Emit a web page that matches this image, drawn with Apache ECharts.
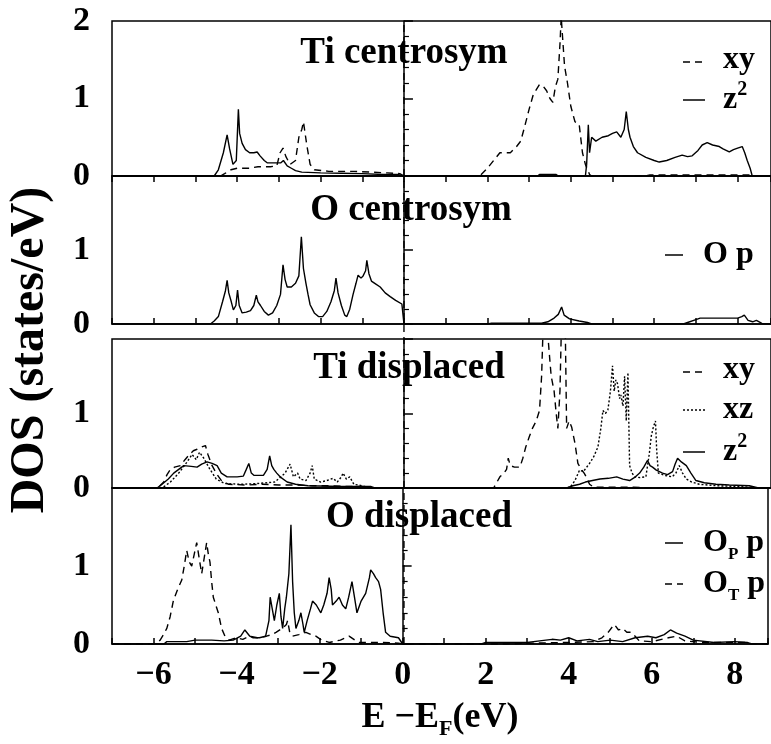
<!DOCTYPE html>
<html>
<head>
<meta charset="utf-8">
<script src="https://cdn.jsdelivr.net/npm/echarts/dist/echarts.min.js"></script>
<style>
  html, body { margin: 0; padding: 0; background: #fff; }
  #chart { width: 771px; height: 744px; }
</style>
</head>
<body>
<div id="chart"></div>
<script>
// energy axis range and Fermi level (eV)
const energyMin = -7;
const energyMax = 8.8;
const fermiLevel = 0;

const panelTitles = ['Ti centrosym', 'O centrosym', 'Ti displaced', 'O displaced'];
const xTickLabels = [-6, -4, -2, 0, 2, 4, 6, 8];
const yTickLabels = [0, 1, 2];

// [E - EF, DOS]
const tiCentroXy = [[-7,0],[-4.4,0],[-4.3,0.03],[-4.15,0.08],[-4.0,0.1],[-3.7,0.1],[-3.5,0.12],[-3.2,0.12],[-3.05,0.13],[-2.97,0.3],[-2.9,0.36],[-2.83,0.25],[-2.73,0.15],[-2.6,0.2],[-2.52,0.5],[-2.45,0.6],[-2.41,0.7],[-2.37,0.55],[-2.33,0.4],[-2.25,0.15],[-2.15,0.08],[-1.8,0.06],[-1.2,0.06],[-0.8,0.05],[-0.4,0.04],[-0.1,0.03],[0,0],[1.82,0],[2.0,0.1],[2.15,0.2],[2.3,0.3],[2.55,0.3],[2.7,0.38],[2.8,0.45],[2.9,0.65],[3.0,0.86],[3.1,1.05],[3.25,1.18],[3.35,1.15],[3.42,1.1],[3.5,1.0],[3.57,0.95],[3.63,1.15],[3.69,1.25],[3.74,1.7],[3.77,2.05],[3.8,2.05],[3.85,1.42],[3.92,1.2],[4.0,0.9],[4.05,0.8],[4.1,0.7],[4.2,0.67],[4.28,0.3],[4.35,0.15],[4.45,0.02],[4.5,0],[5.8,0],[5.9,0.015],[8.3,0.015],[8.35,0],[8.8,0]];
const tiCentroZ2 = [[-7,0],[-4.55,0],[-4.45,0.08],[-4.33,0.3],[-4.24,0.53],[-4.18,0.35],[-4.1,0.15],[-4.02,0.2],[-3.97,0.86],[-3.94,0.55],[-3.88,0.42],[-3.8,0.34],[-3.7,0.3],[-3.6,0.3],[-3.52,0.31],[-3.45,0.26],[-3.35,0.2],[-3.28,0.17],[-3.1,0.17],[-2.95,0.17],[-2.89,0.2],[-2.8,0.13],[-2.7,0.1],[-2.6,0.07],[-2.45,0.05],[-2.0,0.04],[-1.5,0.035],[-1.0,0.03],[-0.5,0.02],[-0.15,0.02],[0,0],[3.2,0],[3.25,0.02],[3.65,0.02],[3.7,0],[4.35,0],[4.38,0.15],[4.42,0.66],[4.45,0.3],[4.5,0.5],[4.6,0.45],[4.75,0.5],[4.9,0.52],[5.0,0.55],[5.1,0.57],[5.2,0.5],[5.28,0.6],[5.33,0.83],[5.38,0.6],[5.42,0.5],[5.5,0.38],[5.6,0.3],[5.8,0.24],[6.0,0.2],[6.12,0.18],[6.3,0.2],[6.5,0.24],[6.67,0.27],[6.8,0.25],[6.91,0.26],[7.05,0.33],[7.15,0.4],[7.27,0.43],[7.4,0.4],[7.56,0.38],[7.65,0.35],[7.8,0.31],[7.9,0.34],[8.0,0.36],[8.11,0.38],[8.17,0.3],[8.23,0.2],[8.3,0.1],[8.35,0],[8.8,0]];
const oCentroP = [[-7,0],[-4.64,0],[-4.55,0.04],[-4.45,0.1],[-4.35,0.3],[-4.28,0.45],[-4.24,0.59],[-4.2,0.42],[-4.14,0.3],[-4.09,0.19],[-4.03,0.25],[-3.99,0.46],[-3.95,0.25],[-3.88,0.15],[-3.78,0.16],[-3.68,0.18],[-3.6,0.25],[-3.54,0.39],[-3.5,0.3],[-3.44,0.25],[-3.35,0.17],[-3.25,0.12],[-3.15,0.15],[-3.05,0.25],[-2.96,0.4],[-2.9,0.8],[-2.85,0.6],[-2.8,0.5],[-2.7,0.5],[-2.6,0.55],[-2.52,0.65],[-2.46,1.18],[-2.41,0.75],[-2.35,0.55],[-2.3,0.4],[-2.25,0.26],[-2.15,0.15],[-2.05,0.1],[-1.95,0.1],[-1.85,0.17],[-1.75,0.3],[-1.67,0.45],[-1.63,0.62],[-1.58,0.42],[-1.5,0.25],[-1.42,0.12],[-1.37,0.1],[-1.3,0.2],[-1.22,0.4],[-1.15,0.55],[-1.1,0.66],[-1.03,0.62],[-0.98,0.65],[-0.92,0.72],[-0.89,0.86],[-0.84,0.68],[-0.78,0.58],[-0.7,0.55],[-0.57,0.5],[-0.45,0.42],[-0.33,0.37],[-0.2,0.32],[-0.05,0.27],[0,0],[2.0,0],[2.1,0.01],[3.3,0.01],[3.45,0.03],[3.6,0.08],[3.7,0.13],[3.78,0.23],[3.84,0.12],[3.97,0.07],[4.2,0.04],[4.4,0.02],[4.5,0],[6.7,0],[6.8,0.02],[7.0,0.06],[7.1,0.08],[8.0,0.08],[8.1,0.1],[8.16,0.12],[8.25,0.05],[8.36,0.03],[8.45,0.05],[8.55,0.02],[8.6,0],[8.8,0]];
const tiDispXy = [[-7,0],[-5.95,0],[-5.85,0.03],[-5.76,0.08],[-5.68,0.18],[-5.6,0.25],[-5.5,0.28],[-5.36,0.3],[-5.25,0.38],[-5.16,0.44],[-5.05,0.5],[-4.96,0.52],[-4.85,0.55],[-4.76,0.57],[-4.7,0.45],[-4.6,0.3],[-4.48,0.18],[-4.35,0.08],[-4.2,0.05],[-3.8,0.04],[-3.4,0.05],[-3.0,0.04],[-2.6,0.04],[-2.2,0.03],[-1.8,0.03],[-1.4,0.02],[-1.0,0.02],[-0.8,0],[2.15,0],[2.22,0.07],[2.3,0.15],[2.4,0.2],[2.46,0.25],[2.5,0.4],[2.55,0.3],[2.65,0.28],[2.78,0.28],[2.85,0.4],[2.92,0.55],[3.0,0.68],[3.08,0.8],[3.17,0.9],[3.25,1.04],[3.3,1.5],[3.33,2.05],[3.45,2.05],[3.5,1.7],[3.53,1.5],[3.6,1.3],[3.65,1.0],[3.69,0.8],[3.74,1.3],[3.77,2.05],[3.87,2.05],[3.9,0.8],[3.96,0.9],[4.02,0.82],[4.1,0.6],[4.17,0.33],[4.25,0.25],[4.32,0.2],[4.37,0.15],[4.45,0.05],[4.55,0.01],[5.5,0.01],[6.0,0],[8.8,0]];
const tiDispXz = [[-7,0],[-5.8,0],[-5.6,0.08],[-5.4,0.2],[-5.2,0.35],[-5.08,0.45],[-4.98,0.38],[-4.9,0.48],[-4.8,0.4],[-4.65,0.25],[-4.5,0.12],[-4.3,0.06],[-3.9,0.05],[-3.5,0.06],[-3.1,0.08],[-2.95,0.15],[-2.85,0.2],[-2.73,0.32],[-2.65,0.15],[-2.55,0.2],[-2.49,0.12],[-2.35,0.1],[-2.25,0.2],[-2.2,0.3],[-2.15,0.12],[-2.0,0.08],[-1.85,0.1],[-1.7,0.13],[-1.6,0.08],[-1.5,0.15],[-1.46,0.2],[-1.38,0.12],[-1.3,0.15],[-1.2,0.05],[-1.0,0.03],[-0.8,0],[3.9,0],[4.0,0.02],[4.1,0.1],[4.21,0.24],[4.3,0.22],[4.45,0.33],[4.55,0.42],[4.65,0.55],[4.72,0.8],[4.77,1.04],[4.83,1.0],[4.89,1.05],[4.95,1.3],[5.0,1.64],[5.04,1.3],[5.08,1.45],[5.12,1.4],[5.17,1.2],[5.2,1.25],[5.25,1.1],[5.29,1.5],[5.33,0.9],[5.37,1.55],[5.41,0.3],[5.47,0.2],[5.53,0.15],[5.65,0.14],[5.8,0.15],[5.88,0.45],[5.93,0.7],[5.98,0.82],[6.03,0.9],[6.06,0.5],[6.1,0.2],[6.25,0.17],[6.43,0.15],[6.52,0.2],[6.6,0.3],[6.68,0.2],[6.77,0.12],[6.9,0.08],[7.08,0.05],[7.5,0.03],[8.0,0.02],[8.3,0.01],[8.4,0],[8.8,0]];
const tiDispZ2 = [[-7,0],[-5.92,0],[-5.8,0.05],[-5.65,0.12],[-5.52,0.2],[-5.4,0.25],[-5.28,0.3],[-5.1,0.29],[-4.96,0.28],[-4.85,0.32],[-4.72,0.35],[-4.6,0.33],[-4.48,0.3],[-4.38,0.2],[-4.24,0.15],[-4.0,0.15],[-3.85,0.16],[-3.78,0.25],[-3.72,0.33],[-3.66,0.2],[-3.6,0.17],[-3.37,0.17],[-3.28,0.25],[-3.22,0.43],[-3.17,0.3],[-3.12,0.25],[-3.05,0.2],[-2.97,0.15],[-2.8,0.08],[-2.6,0.05],[-2.3,0.03],[-1.5,0.02],[-0.8,0.02],[-0.7,0],[3.9,0],[4.05,0.03],[4.21,0.05],[4.35,0.08],[4.52,0.1],[4.7,0.12],[4.9,0.13],[5.1,0.15],[5.25,0.12],[5.41,0.1],[5.55,0.15],[5.65,0.2],[5.75,0.28],[5.84,0.37],[5.9,0.3],[5.96,0.28],[6.05,0.24],[6.2,0.2],[6.32,0.18],[6.44,0.22],[6.5,0.32],[6.56,0.4],[6.65,0.35],[6.77,0.3],[6.88,0.2],[7.0,0.1],[7.2,0.07],[7.48,0.05],[7.8,0.04],[8.28,0.03],[8.5,0],[8.8,0]];
const oDispOpP = [[-7,0],[-5.75,0],[-5.68,0.03],[-5.2,0.03],[-5.0,0.05],[-4.6,0.05],[-4.3,0.04],[-4.08,0.05],[-3.9,0.1],[-3.8,0.18],[-3.76,0.2],[-3.68,0.1],[-3.6,0.08],[-3.45,0.08],[-3.3,0.1],[-3.22,0.3],[-3.19,0.6],[-3.14,0.45],[-3.09,0.3],[-3.03,0.5],[-2.97,0.65],[-2.93,0.35],[-2.89,0.2],[-2.84,0.45],[-2.8,0.6],[-2.74,0.9],[-2.69,1.53],[-2.65,0.8],[-2.61,0.4],[-2.57,0.2],[-2.5,0.3],[-2.45,0.4],[-2.4,0.25],[-2.37,0.15],[-2.3,0.3],[-2.22,0.45],[-2.17,0.55],[-2.08,0.5],[-1.97,0.4],[-1.9,0.5],[-1.82,0.65],[-1.77,0.85],[-1.72,0.7],[-1.69,0.5],[-1.6,0.55],[-1.53,0.6],[-1.45,0.5],[-1.37,0.45],[-1.3,0.6],[-1.22,0.8],[-1.16,0.6],[-1.1,0.4],[-1.0,0.55],[-0.89,0.65],[-0.8,0.85],[-0.77,0.95],[-0.7,0.9],[-0.65,0.85],[-0.58,0.8],[-0.53,0.7],[-0.47,0.4],[-0.41,0.15],[-0.3,0.1],[-0.1,0.08],[0,0],[1.9,0],[2.0,0.02],[3.0,0.02],[3.3,0.04],[3.6,0.06],[3.8,0.05],[4.0,0.08],[4.2,0.04],[4.5,0.06],[4.7,0.03],[5.0,0.05],[5.3,0.03],[5.6,0.08],[5.9,0.1],[6.1,0.08],[6.3,0.12],[6.45,0.18],[6.6,0.14],[6.8,0.1],[7.0,0.05],[7.5,0.02],[8.0,0.03],[8.3,0.02],[8.4,0],[8.8,0]];
const oDispOtP = [[-7,0],[-6.0,0],[-5.92,0.02],[-5.84,0.05],[-5.76,0.12],[-5.68,0.2],[-5.6,0.35],[-5.52,0.56],[-5.42,0.7],[-5.32,0.82],[-5.26,1.0],[-5.2,1.2],[-5.14,1.05],[-5.08,1.0],[-5.02,1.15],[-4.96,1.3],[-4.9,1.1],[-4.84,0.9],[-4.78,1.1],[-4.72,1.3],[-4.68,1.15],[-4.64,1.05],[-4.6,0.8],[-4.56,0.6],[-4.5,0.5],[-4.44,0.4],[-4.36,0.2],[-4.28,0.1],[-4.18,0.05],[-4.0,0.08],[-3.85,0.06],[-3.68,0.1],[-3.5,0.08],[-3.28,0.1],[-3.15,0.12],[-3.05,0.15],[-2.9,0.2],[-2.8,0.25],[-2.77,0.3],[-2.72,0.15],[-2.65,0.1],[-2.5,0.12],[-2.33,0.15],[-2.2,0.12],[-2.09,0.1],[-1.95,0.05],[-1.77,0.02],[-1.5,0.05],[-1.29,0.1],[-1.15,0.05],[-1.05,0.02],[-0.5,0.02],[-0.1,0.01],[0,0],[2.5,0],[3.0,0.01],[4.0,0.02],[4.6,0.03],[4.8,0.08],[4.95,0.15],[5.05,0.22],[5.1,0.25],[5.2,0.18],[5.3,0.2],[5.4,0.15],[5.5,0.15],[5.6,0.1],[5.7,0.04],[6.0,0.03],[6.4,0.08],[6.6,0.1],[6.8,0.04],[7.2,0.02],[8.3,0.02],[8.4,0],[8.8,0]];

const serif = 'Liberation Serif';
const DASH = [7, 5];
const DOT = [2, 2];

// panel boxes (px)
const panels = [
  { top: 21, height: 155, tick: 'top' },
  { top: 176, height: 148, tick: 'bottom' },
  { top: 339, height: 149, tick: 'none' },
  { top: 488, height: 156, tick: 'bottom', labels: true }
];

const chart = echarts.init(document.getElementById('chart'));

const grids = panels.map(p => ({
  left: 112, right: -3, top: p.top, height: p.height,
  show: true, borderColor: '#000', borderWidth: 1.5
}));
// full-height grid for the Fermi level line
grids.push({ left: 112, right: -3, top: 21, height: 623 });

const xAxes = panels.map((p, i) => ({
  gridIndex: i, type: 'value', min: energyMin, max: energyMax, interval: 1,
  position: p.tick === 'top' ? 'top' : 'bottom',
  axisLine: { show: true, lineStyle: { color: '#000', width: 1.5 } },
  axisTick: { show: p.tick !== 'none', inside: true, length: 6, lineStyle: { color: '#000', width: 1.5 } },
  splitLine: { show: false },
  axisLabel: {
    show: !!p.labels, margin: 14, color: '#000', fontFamily: serif, fontWeight: 'bold', fontSize: 34,
    formatter: v => xTickLabels.indexOf(v) >= 0 ? (v < 0 ? '\u2212' + Math.abs(v) : String(v)) : ''
  }
}));
xAxes.push({ gridIndex: 4, type: 'value', min: energyMin, max: energyMax, show: false });

const yAxes = panels.map((p, i) => ({
  gridIndex: i, type: 'value', min: 0, max: 2, interval: 1,
  axisLine: { show: true, lineStyle: { color: '#000', width: 1.5 } },
  axisTick: { show: true, inside: true, length: 9, lineStyle: { color: '#000', width: 1.5 } },
  minorTick: { show: true, splitNumber: 5, length: 5, lineStyle: { color: '#000', width: 1.2 } },
  splitLine: { show: false },
  axisLabel: {
    margin: 22, color: '#000', fontFamily: serif, fontWeight: 'bold', fontSize: 34,
    formatter: v => (yTickLabels.indexOf(v) >= 0 && (i === 0 || v < 2)) ? String(v) : ''
  }
}));
yAxes.push({ gridIndex: 4, type: 'value', min: 0, max: 1, show: false });

function curve(data, idx, dash) {
  return {
    type: 'line', data: data, xAxisIndex: idx, yAxisIndex: idx,
    showSymbol: false, symbol: 'none', clip: true,
    lineStyle: { color: '#000', width: 1.4, type: dash || 'solid' }
  };
}

const series = [
  curve(tiCentroXy, 0, DASH),
  curve(tiCentroZ2, 0),
  curve(oCentroP, 1),
  curve(tiDispXy, 2, DASH),
  curve(tiDispXz, 2, DOT),
  curve(tiDispZ2, 2),
  curve(oDispOpP, 3),
  curve(oDispOtP, 3, DASH),
  curve([[fermiLevel, 0], [fermiLevel, 1]], 4, DASH)
];

const titleStyle = { fill: '#000', fontFamily: serif, fontWeight: 'bold', fontSize: 37, align: 'center', verticalAlign: 'middle' };
const legendFont = { fill: '#000', fontFamily: serif, fontWeight: 'bold', fontSize: 32, lineHeight: 40, verticalAlign: 'middle' };
const richSup = {
  sup: { fontFamily: serif, fontWeight: 'bold', fontSize: 20, lineHeight: 14, verticalAlign: 'top' },
  sub: { fontFamily: serif, fontWeight: 'bold', fontSize: 17, lineHeight: 14, verticalAlign: 'bottom' }
};
const richTitle = {
  sub: { fontFamily: serif, fontWeight: 'bold', fontSize: 22, lineHeight: 18, verticalAlign: 'bottom' }
};

function title(text, x, y) {
  return { type: 'text', x: x, y: y, z: 100, style: Object.assign({ text: text }, titleStyle) };
}
function legendText(text, x, y) {
  return { type: 'text', x: x, y: y, z: 100, style: Object.assign({ text: text, rich: richSup }, legendFont) };
}
function sample(x1, x2, y, dash) {
  return { type: 'line', z: 100, shape: { x1: x1, y1: y, x2: x2, y2: y },
           style: { stroke: '#000', lineWidth: 1.5, lineDash: dash || null } };
}

const graphic = [
  title(panelTitles[0], 404, 53),
  title(panelTitles[1], 411, 210),
  title(panelTitles[2], 409, 368),
  title(panelTitles[3], 419, 517),
  sample(683, 705, 62, DASH), legendText('xy', 723, 60),
  sample(683, 705, 100, null), legendText('z{sup|2}', 723, 100),
  sample(665, 683, 255, null), legendText('O p', 703, 255),
  sample(683, 705, 372, DASH), legendText('xy', 723, 370),
  sample(683, 705, 410, DOT), legendText('xz', 723, 410),
  sample(683, 705, 452, null), legendText('z{sup|2}', 723, 452),
  sample(665, 683, 543, null), legendText('O{sub|P} p', 703, 543),
  sample(665, 683, 584, DASH), legendText('O{sub|T} p', 703, 584),
  { type: 'text', x: 31, y: 350, rotation: Math.PI / 2, z: 100,
    style: { text: 'DOS (states/eV)', fill: '#000', fontFamily: serif, fontWeight: 'bold', fontSize: 48, align: 'center', verticalAlign: 'middle' } },
  { type: 'text', x: 440, y: 718, z: 100,
    style: Object.assign({ text: 'E \u2212E{sub|F}(eV)', rich: richTitle }, legendFont, { fontSize: 36, lineHeight: 44, align: 'center' }) }
];

chart.setOption({
  animation: false,
  backgroundColor: '#fff',
  grid: grids,
  xAxis: xAxes,
  yAxis: yAxes,
  series: series,
  graphic: graphic
});
</script>
</body>
</html>
